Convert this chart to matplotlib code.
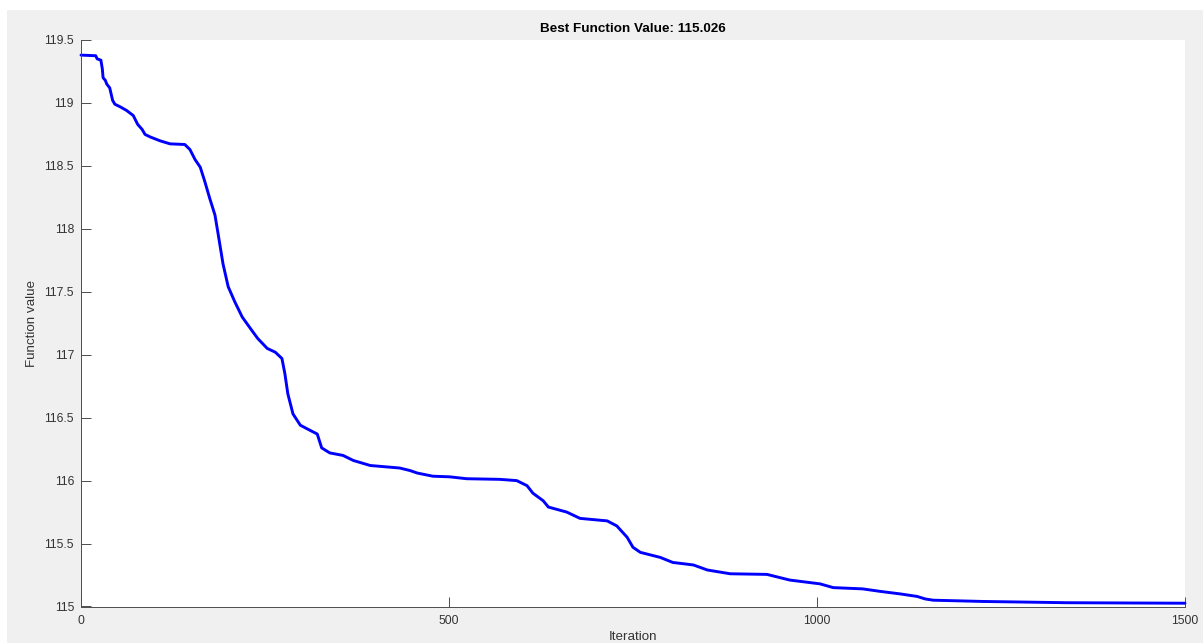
import matplotlib
matplotlib.use("Agg")
import matplotlib.pyplot as plt
from matplotlib.patches import Rectangle
from matplotlib.ticker import FuncFormatter

# Control points (iteration, best function value)
iterations = [0, 20, 22, 27, 29, 30, 33, 35, 39, 43, 46, 53, 62, 71, 77, 83, 87, 94,
              107, 121, 141, 148, 155, 162, 168, 175, 182, 186, 193, 200, 209, 219,
              230, 240, 253, 264, 273, 277, 281, 288, 298, 311, 321, 327, 338, 356,
              370, 393, 433, 447, 457, 478, 501, 524, 569, 592, 606, 614, 628, 635,
              660, 678, 715, 728, 742, 750, 760, 787, 804, 832, 851, 882, 932, 963,
              1004, 1022, 1062, 1086, 1113, 1136, 1147, 1158, 1226, 1340, 1500]
values = [119.38, 119.375, 119.35, 119.34, 119.27, 119.20, 119.18, 119.15, 119.12,
          119.02, 118.99, 118.97, 118.94, 118.90, 118.83, 118.79, 118.75, 118.73,
          118.70, 118.675, 118.67, 118.63, 118.55, 118.49, 118.38, 118.24, 118.11,
          117.97, 117.72, 117.54, 117.42, 117.30, 117.21, 117.13, 117.05, 117.02,
          116.97, 116.85, 116.69, 116.53, 116.44, 116.40, 116.37, 116.26, 116.22,
          116.20, 116.16, 116.12, 116.10, 116.08, 116.06, 116.035, 116.03, 116.015,
          116.01, 116.00, 115.96, 115.90, 115.84, 115.79, 115.75, 115.70, 115.68,
          115.64, 115.55, 115.47, 115.43, 115.39, 115.35, 115.33, 115.29, 115.26,
          115.255, 115.21, 115.18, 115.15, 115.14, 115.12, 115.10, 115.08, 115.06,
          115.05, 115.04, 115.03, 115.026]

x_ticks = [0, 500, 1000, 1500]
y_ticks = [115, 115.5, 116, 116.5, 117, 117.5, 118, 118.5, 119, 119.5]
title_text = "Best Function Value: 115.026"
x_label = "Iteration"
y_label = "Function value"

plt.rcParams['font.family'] = ['Liberation Sans', 'DejaVu Sans']

W, H = 1203, 643
fig = plt.figure(figsize=(W / 100, H / 100), dpi=100, facecolor='white')
fig.patches.append(Rectangle((7 / W, 0), 1 - 7 / W, (H - 10) / H,
                             transform=fig.transFigure, facecolor='#f0f0f0',
                             edgecolor='none', zorder=-10))

left, right, top, bottom = 81, 1185, 40, 606.5
ax = fig.add_axes([left / W, (H - bottom) / H, (right - left) / W, (bottom - top) / H])
ax.set_facecolor('white')

ax.plot(iterations, values, color='#0000ff', linewidth=2.1,
        solid_capstyle='round', solid_joinstyle='round', clip_on=False)

ax.set_xlim(0, 1500)
ax.set_ylim(115, 119.5)
ax.set_xticks(x_ticks)
ax.set_yticks(y_ticks)
ax.yaxis.set_major_formatter(FuncFormatter(lambda v, p: '%g' % v))
ax.xaxis.set_major_formatter(FuncFormatter(lambda v, p: '%g' % v))

for s in ['top', 'right']:
    ax.spines[s].set_visible(False)
for s in ['left', 'bottom']:
    ax.spines[s].set_color('#4d4d4d')
    ax.spines[s].set_linewidth(0.7)

ax.tick_params(direction='in', length=7, width=0.7, color='#4d4d4d',
               labelcolor='#333333', labelsize=8.7)
ax.tick_params(axis='x', pad=6)
ax.tick_params(axis='y', pad=5)

ax.set_xlabel(x_label, fontsize=9.6, color='#333333', va='center')
ax.xaxis.set_label_coords(0.5, -0.0538)
ax.set_ylabel(y_label, fontsize=9.6, color='#333333', va='center')
ax.yaxis.set_label_coords(-0.0444, 0.5)

ax.text(0.5, 1.019, title_text, transform=ax.transAxes, ha='center', va='center',
        fontsize=9.7, fontweight='bold', color='black')

fig.savefig('out.png', dpi=100, facecolor='white')
